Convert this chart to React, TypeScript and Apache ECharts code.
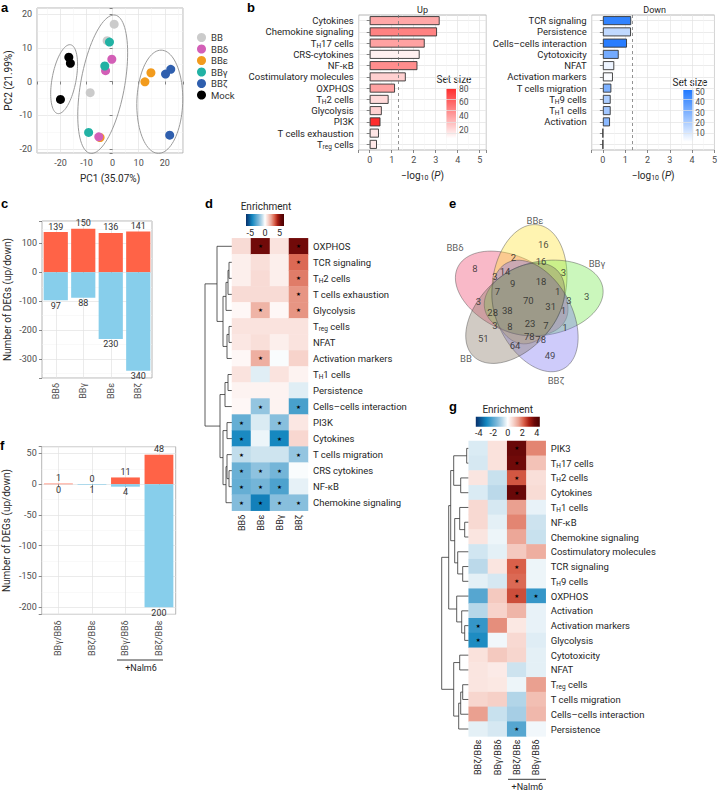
import React, { useEffect, useRef } from 'react';
import * as echarts from 'echarts';

const FONT = 'Roboto, "Noto Sans", "DejaVu Sans", sans-serif';
const TXT = '#262626';
const TICK_TXT = '#4d4d4d';

/* ---------- a: PCA ---------- */
const pcaGroups = ['BB', 'BBδ', 'BBε', 'BBγ', 'BBζ', 'Mock'];
const pcaBB = [[0.6, 17.0], [-2.1, 12.1], [-8.6, -3.3]];
const pcaBBd = [[-0.3, 6.6], [-2.7, 3.2], [-5.3, -16.4]];
const pcaBBe = [[12.4, -0.1], [14.7, 2.6], [-4.8, -16.6]];
const pcaBBg = [[-1.2, 11.7], [-3.0, 4.6], [-9.2, -15.1]];
const pcaBBz = [[20.3, 2.2], [22.3, 3.6], [21.9, -15.9]];
const pcaMock = [[-16.8, 7.2], [-16.2, 5.4], [-20.0, -5.3]];
const pcaColors = ['#cbcbcb', '#d35fb7', '#f29b1d', '#22b2a4', '#2f5fae', '#000000'];
const pcaEllipseCx = [-18.6, -3.8, 18.1];
const pcaEllipseCy = [0.7, -0.8, -6.0];
const pcaEllipseMajor = [[2.5, 10.2], [4.76, 20.5], [0.5, 15.3]];
const pcaEllipseMinor = [[4.5, -0.7], [8.3, -1.1], [8.8, 0]];

/* ---------- b: pathway enrichment ---------- */
const upPaths = ['Cytokines', 'Chemokine signaling', 'TH17 cells', 'CRS-cytokines', 'NF-κB', 'Costimulatory molecules', 'OXPHOS', 'TH2 cells', 'Glycolysis', 'PI3K', 'T cells exhaustion', 'Treg cells'];
const upLogP = [3.18, 3.06, 2.5, 2.27, 2.17, 1.64, 1.15, 0.86, 0.55, 0.49, 0.42, 0.33];
const upSetSize = [38, 51, 40, 13, 47, 24, 40, 21, 24, 80, 17, 16];
const downPaths = ['TCR signaling', 'Persistence', 'Cells–cells interaction', 'Cytotoxicity', 'NFAT', 'Activation markers', 'T cells migration', 'TH9 cells', 'TH1 cells', 'Activation', '', ' '];
const downLogP = [1.27, 1.26, 1.08, 0.71, 0.51, 0.45, 0.38, 0.35, 0.35, 0.32, 0, 0];
const downSetSize = [48, 16, 50, 33, 6, 3, 31, 21, 23, 28, 3, 3];

/* ---------- c: DEG counts ---------- */
const cGroups = ['BBδ', 'BBγ', 'BBε', 'BBζ'];
const cUp = [139, 150, 136, 141];
const cDown = [97, 88, 230, 340];

/* ---------- d: enrichment heatmap ---------- */
const dRows = ['OXPHOS', 'TCR signaling', 'TH2 cells', 'T cells exhaustion', 'Glycolysis', 'Treg cells', 'NFAT', 'Activation markers', 'TH1 cells', 'Persistence', 'Cells–cells interaction', 'PI3K', 'Cytokines', 'T cells migration', 'CRS cytokines', 'NF-κB', 'Chemokine signaling'];
const dCols = ['BBδ', 'BBε', 'BBγ', 'BBζ'];
const dBBd = [0.9, 0.4, 0.4, 0.9, 0.2, 0.7, 0.6, 0.2, 0.7, 0.3, 0.2, -2.7, -4.2, -1.0, -2.6, -2.7, -2.1];
const dBBe = [5.3, 0.8, 0.9, 0.9, 1.8, 0.7, 0.8, 1.9, -0.5, 0.3, -1.8, -0.6, -0.3, -0.8, -1.9, -2.4, -4.5];
const dBBg = [0.7, 0.4, 0.4, 0.9, 0.2, 0.7, 0.4, -0.1, 0.7, 0.3, 0.3, -2.0, -4.3, -0.8, -2.4, -3.2, -2.0];
const dBBz = [5.3, 3.1, 2.8, 2.4, 2.4, 0.7, 0.7, 1.1, 0.3, -0.5, -3.3, 0.6, 1.0, -1.8, -0.1, -0.4, -2.0];
const dSigBBd = [0, 0, 0, 0, 0, 0, 0, 0, 0, 0, 0, 1, 1, 1, 1, 1, 1];
const dSigBBe = [1, 0, 0, 0, 1, 0, 0, 1, 0, 0, 1, 0, 0, 0, 1, 1, 1];
const dSigBBg = [0, 0, 0, 0, 0, 0, 0, 0, 0, 0, 0, 1, 1, 0, 1, 1, 1];
const dSigBBz = [1, 1, 1, 1, 1, 0, 0, 0, 0, 0, 1, 0, 0, 1, 0, 0, 1];
const dMergeA = [1, 17, 18, 5, 20, 19, 0, 8, 24, 11, 14, 13, 28, 26, 25, 23];
const dMergeB = [2, 3, 4, 6, 7, 21, 22, 9, 10, 12, 15, 27, 16, 29, 30, 31];
const dMergeH = [3, 4, 6, 3, 5, 9, 15, 4, 7, 5, 3, 5, 6, 9, 12, 27];

/* ---------- e: Venn ---------- */
const vennSetNames = ['BBδ', 'BBε', 'BBγ', 'BBζ', 'BB'];
const vennCounts = [8, 16, 3, 49, 51, 2, 16, 3, 3, 14, 9, 18, 1, 3, 7, 70, 31, 1, 28, 38, 3, 8, 23, 7, 1, 78, 78, 64, 3];
const vennLabelX = [35, 103.3, 146.7, 110, 43.3, 73.3, 101, 123.3, 55, 65, 72.7, 101, 117.7, 129, 57.3, 88.3, 110.7, 123.3, 52.7, 67.3, 55, 70, 90, 106, 125, 89.3, 100.7, 75, 38.5];
const vennLabelY = [58, 34.3, 86.7, 145, 128.3, 47.3, 51.7, 62.7, 66, 61.7, 73.3, 71.7, 81.7, 90, 81.7, 90, 96.7, 100, 102.7, 100, 115, 116.7, 113.3, 115, 117.3, 126, 129.3, 135, 91.7];
const vennSetLabelX = [15, 95, 157, 116, 26];
const vennSetLabelY = [37, 10, 53, 170, 148];
const vennEllipseCx = [71.7, 89.4, 103.7, 95.0, 75.2];
const vennEllipseCy = [83.5, 74.2, 88.0, 106.0, 103.2];
const vennEllipseAngle = [206, 278, -10, 62, 134];
const vennFill = ['rgba(240,70,110,0.38)', 'rgba(255,228,60,0.40)', 'rgba(110,232,70,0.36)', 'rgba(120,110,240,0.36)', 'rgba(135,118,100,0.38)'];

/* ---------- f: DEG counts vs Nalm6 ---------- */
const fGroups = ['BBγ/BBδ', 'BBζ/BBε', 'BBγ/BBδ', 'BBζ/BBε'];
const fUp = [1, 0, 11, 48];
const fDown = [0, 1, 4, 200];

/* ---------- g: enrichment heatmap ---------- */
const gRows = ['PIK3', 'TH17 cells', 'TH2 cells', 'Cytokines', 'TH1 cells', 'NF-κB', 'Chemokine signaling', 'Costimulatory molecules', 'TCR signaling', 'TH9 cells', 'OXPHOS', 'Activation', 'Activation markers', 'Glycolysis', 'Cytotoxicity', 'NFAT', 'Treg cells', 'T cells migration', 'Cells–cells interaction', 'Persistence'];
const gCols = ['BBζ/BBε', 'BBγ/BBδ', 'BBζ/BBε', 'BBγ/BBδ'];
const gCol1 = [-0.4, -0.45, 0.45, -0.4, 0.65, 0.65, 0.45, -0.5, -0.75, -0.3, -2.05, -0.8, -2.5, -2.8, 0.5, 0.45, 0.45, 0.7, 1.5, -0.3];
const gCol2 = [0.5, 0.5, -0.6, -0.75, -0.45, -0.3, -0.2, -0.3, 0.45, -0.45, 0.9, 0.75, 1.7, -0.15, 0.9, 0.35, 0.4, 0.8, -0.6, -0.45];
const gCol3 = [3.7, 3.6, 2.3, 3.7, 1.5, 1.8, 1.4, 0.9, 2.2, 2.1, 2.4, 1.2, 0.4, 0.65, 0.7, -0.55, -0.2, -0.85, -1.0, -2.05];
const gCol4 = [1.8, 1.0, 0.55, 0.6, -0.25, -0.55, -0.6, 1.3, -0.2, -0.2, -2.5, -0.25, -0.25, -0.35, -0.3, -0.3, 1.5, 1.05, 1.15, -0.15];
const gSig1 = [0, 0, 0, 0, 0, 0, 0, 0, 0, 0, 0, 0, 1, 1, 0, 0, 0, 0, 0, 0];
const gSig2 = [0, 0, 0, 0, 0, 0, 0, 0, 0, 0, 0, 0, 0, 0, 0, 0, 0, 0, 0, 0];
const gSig3 = [1, 1, 1, 1, 0, 0, 0, 0, 1, 1, 1, 0, 0, 0, 0, 0, 0, 0, 0, 1];
const gSig4 = [0, 0, 0, 0, 0, 0, 0, 0, 0, 0, 1, 0, 0, 0, 0, 0, 0, 0, 0, 0];
const gMergeA = [0, 2, 20, 5, 4, 8, 7, 24, 22, 12, 11, 10, 28, 14, 16, 34, 35, 33, 32];
const gMergeB = [1, 3, 21, 6, 23, 9, 25, 26, 27, 13, 29, 30, 31, 15, 17, 18, 19, 36, 37];
const gMergeH = [2, 8, 15, 4, 9, 6, 11, 14, 18, 4, 7, 12, 20, 9, 6, 8, 10, 15, 27];

const divPalette = ['#08306b', '#0b5a96', '#1487c0', '#4ba1cd', '#7fbadb', '#bcdaea', '#ffffff', '#f7d4cc', '#eba393', '#d9604a', '#a81e12', '#6a0808', '#4a0000'];

function niceFmt(step: number) {
  return (v: number) => {
    const r = Math.round(v / step) * step;
    return Math.abs(v - r) < 1e-6 ? String(Math.round(r * 100) / 100) : '';
  };
}

function richName(s: string) {
  if (s.indexOf('Treg') === 0) return 'T{s|reg}' + s.slice(4);
  const m = /^TH(\d.*)$/.exec(s);
  if (m) return 'T{s|H}' + m[1];
  return s;
}

function dendroSegments(n: number, A: number[], B: number[], H: number[]) {
  const pos: number[] = [];
  const h: number[] = [];
  for (let i = 0; i < n; i++) { pos.push(i); h.push(0); }
  const segs: number[][] = [];
  for (let k = 0; k < A.length; k++) {
    const a = A[k], b = B[k];
    segs.push([h[a], pos[a], H[k], pos[b], h[b]]);
    pos.push((pos[a] + pos[b]) / 2);
    h.push(H[k]);
  }
  return segs;
}

function buildOption(): any {
  const grid: any[] = [];
  const xAxis: any[] = [];
  const yAxis: any[] = [];
  const series: any[] = [];
  const visualMap: any[] = [];
  const graphic: any[] = [];

  const lab = (extra: any = {}) => ({ fontSize: 9, color: TICK_TXT, fontFamily: FONT, ...extra });
  const split = { show: true, lineStyle: { color: '#e3e3e3', width: 0.7 } };
  const minorSplit = { show: true, lineStyle: { color: '#f2f2f2', width: 0.5 } };
  const tick = { show: true, length: 3, lineStyle: { color: '#555', width: 0.7 } };
  const frame = { show: true, borderColor: '#a3a3a3', borderWidth: 0.8, backgroundColor: '#ffffff' };
  const subRich = { s: { fontSize: 6.5, padding: [5, 0, 0, 0], fontFamily: FONT, color: TXT } };
  const rowLabel = { fontSize: 9.5, color: TXT, fontFamily: FONT, margin: 5, interval: 0, formatter: richName, rich: subRich };
  const nameStyle = { fontSize: 10, color: TXT, fontFamily: FONT };
  const noLine = { show: false };
  const stops = (cols: string[]) => cols.map((c, i) => ({ offset: i / (cols.length - 1), color: c }));
  const gText = (x: number, y: number, text: string, opts: any = {}) => ({
    type: 'text', x, y, silent: true,
    style: { text, fill: TXT, fontSize: 10, fontFamily: FONT, textAlign: 'center', textVerticalAlign: 'middle', ...opts },
  });
  const hiddenGrid = (g: any, xa: any, ya: any) => {
    grid.push(g);
    const gi = grid.length - 1;
    xAxis.push({ gridIndex: gi, ...xa });
    yAxis.push({ gridIndex: gi, ...ya });
    return gi;
  };
  const dendroRender = (params: any, api: any) => {
    const p1 = api.coord([api.value(0), api.value(1)]);
    const p2 = api.coord([api.value(2), api.value(1)]);
    const p3 = api.coord([api.value(2), api.value(3)]);
    const p4 = api.coord([api.value(4), api.value(3)]);
    return { type: 'polyline', shape: { points: [p1, p2, p3, p4] }, style: { fill: 'none', stroke: '#333', lineWidth: 0.8 } };
  };
  const starFmt = (p: any) => (p.data[3] ? '★' : '');

  /* ===== a ===== */
  grid.push({ left: 37, top: 8, width: 146, height: 145, ...frame });
  xAxis.push({
    gridIndex: 0, type: 'value', min: -29, max: 27, axisLine: noLine, axisTick: tick,
    axisLabel: lab({ margin: 5, formatter: niceFmt(10) }), splitLine: split,
    minorTick: { show: false, splitNumber: 2 }, minorSplitLine: minorSplit,
    name: 'PC1 (35.07%)', nameLocation: 'middle', nameGap: 20, nameTextStyle: nameStyle,
  });
  yAxis.push({
    gridIndex: 0, type: 'value', min: -21.2, max: 21.8, axisLine: noLine, axisTick: tick,
    axisLabel: lab({ margin: 5, formatter: niceFmt(10) }), splitLine: split,
    minorTick: { show: false, splitNumber: 2 }, minorSplitLine: minorSplit,
    name: 'PC2 (21.99%)', nameLocation: 'middle', nameGap: 24, nameRotate: 90, nameTextStyle: nameStyle,
  });
  series.push({
    type: 'custom', xAxisIndex: 0, yAxisIndex: 0, silent: true, z: 2,
    data: pcaEllipseCx.map((cx, i) => [cx, pcaEllipseCy[i], i]),
    encode: { x: 0, y: 1 },
    renderItem: (params: any, api: any) => {
      const i = api.value(2);
      const cx = api.value(0), cy = api.value(1);
      const u = pcaEllipseMajor[i], v = pcaEllipseMinor[i];
      const pts: number[][] = [];
      for (let t = 0; t <= 90; t++) {
        const a = (t / 90) * Math.PI * 2;
        pts.push(api.coord([cx + u[0] * Math.cos(a) + v[0] * Math.sin(a), cy + u[1] * Math.cos(a) + v[1] * Math.sin(a)]));
      }
      return { type: 'polygon', shape: { points: pts }, style: { fill: 'none', stroke: '#9a9a9a', lineWidth: 1 } };
    },
  });
  const pcaSets = [pcaBB, pcaBBd, pcaBBe, pcaBBg, pcaBBz, pcaMock];
  [0, 2, 1, 3, 4, 5].forEach((k) => {
    series.push({
      type: 'scatter', name: pcaGroups[k], xAxisIndex: 0, yAxisIndex: 0, data: pcaSets[k],
      symbolSize: 9, itemStyle: { color: pcaColors[k], opacity: 1 }, z: 3, silent: true,
    });
  });

  /* ===== b (up) ===== */
  const bNameRich = { s: { fontSize: 7, padding: [5, 0, 0, 0], fontFamily: FONT, color: TXT }, i: { fontStyle: 'italic', fontSize: 10, fontFamily: FONT, color: TXT } };
  grid.push({ left: 358.7, top: 15, width: 127.6, height: 135, ...frame });
  let gi = grid.length - 1;
  xAxis.push({
    gridIndex: gi, type: 'value', min: -0.5, max: 5.3, axisLine: noLine, axisTick: tick,
    axisLabel: lab({ margin: 5, formatter: niceFmt(1) }), splitLine: split,
    minorTick: { show: false, splitNumber: 2 }, minorSplitLine: minorSplit,
    name: '−log{s|10} ({i|P})', nameLocation: 'middle', nameGap: 19, nameTextStyle: { ...nameStyle, rich: bNameRich },
  });
  yAxis.push({
    gridIndex: gi, type: 'category', data: upPaths, inverse: true, axisLine: noLine,
    axisTick: { ...tick, alignWithLabel: true, interval: 0 }, axisLabel: rowLabel, splitLine: { ...split, alignWithLabel: true, interval: 0 },
  });
  series.push({
    type: 'bar', xAxisIndex: gi, yAxisIndex: gi, silent: true, z: 3,
    data: upLogP.map((v, i) => [v, i, upSetSize[i]]), encode: { x: 0, y: 1 },
    barWidth: 9, itemStyle: { borderColor: '#333', borderWidth: 0.9 },
    markLine: { silent: true, symbol: 'none', label: { show: false }, lineStyle: { type: [3, 3], color: '#777', width: 0.8 }, data: [{ xAxis: 1.301 }] },
  });
  visualMap.push({ type: 'continuous', show: false, seriesIndex: series.length - 1, dimension: 2, min: 8, max: 80, inRange: { color: ['#ffffff', '#ff2d2d'] } });

  /* ===== b (down) ===== */
  grid.push({ left: 591.7, top: 15, width: 126, height: 135, ...frame });
  gi = grid.length - 1;
  xAxis.push({
    gridIndex: gi, type: 'value', min: -0.5, max: 5.0, axisLine: noLine, axisTick: tick,
    axisLabel: lab({ margin: 5, formatter: niceFmt(1) }), splitLine: split,
    minorTick: { show: false, splitNumber: 2 }, minorSplitLine: minorSplit,
    name: '−log{s|10} ({i|P})', nameLocation: 'middle', nameGap: 19, nameTextStyle: { ...nameStyle, rich: bNameRich },
  });
  yAxis.push({
    gridIndex: gi, type: 'category', data: downPaths, inverse: true, axisLine: noLine,
    axisTick: { ...tick, alignWithLabel: true, interval: 0 }, axisLabel: rowLabel, splitLine: { ...split, alignWithLabel: true, interval: 0 },
  });
  series.push({
    type: 'bar', xAxisIndex: gi, yAxisIndex: gi, silent: true, z: 3,
    data: downLogP.map((v, i) => [v, i, downSetSize[i]]), encode: { x: 0, y: 1 },
    barWidth: 9, itemStyle: { borderColor: '#333', borderWidth: 0.9 },
    markLine: { silent: true, symbol: 'none', label: { show: false }, lineStyle: { type: [3, 3], color: '#777', width: 0.8 }, data: [{ xAxis: 1.301 }] },
  });
  visualMap.push({ type: 'continuous', show: false, seriesIndex: series.length - 1, dimension: 2, min: 2, max: 52, inRange: { color: ['#ffffff', '#1f78ff'] } });

  /* colour bar axes for b */
  hiddenGrid({ left: 446, top: 88.7, width: 10, height: 49.6 },
    { type: 'value', show: false, min: 0, max: 1 },
    { type: 'value', min: 8, max: 80, splitNumber: 4, position: 'right', axisLine: noLine, axisTick: { show: false }, splitLine: { show: false }, axisLabel: lab({ fontSize: 8.5, margin: 3, formatter: niceFmt(20) }) });
  hiddenGrid({ left: 683.3, top: 90, width: 10, height: 51.7 },
    { type: 'value', show: false, min: 0, max: 1 },
    { type: 'value', min: 2, max: 52, splitNumber: 5, position: 'right', axisLine: noLine, axisTick: { show: false }, splitLine: { show: false }, axisLabel: lab({ fontSize: 8.5, margin: 2, formatter: niceFmt(10) }) });
  graphic.push({ type: 'rect', silent: true, shape: { x: 446, y: 88.7, width: 10, height: 49.6 }, style: { fill: { type: 'linear', x: 0, y: 1, x2: 0, y2: 0, colorStops: stops(['#ffffff', '#ff2d2d']) } } });
  graphic.push({ type: 'rect', silent: true, shape: { x: 683.3, y: 90, width: 10, height: 51.7 }, style: { fill: { type: 'linear', x: 0, y: 1, x2: 0, y2: 0, colorStops: stops(['#ffffff', '#1f78ff']) } } });
  graphic.push(gText(454, 79, 'Set size'));
  graphic.push(gText(690, 82, 'Set size'));
  graphic.push(gText(422.5, 9.5, 'Up', { fontSize: 9 }));
  graphic.push(gText(654.7, 9.5, 'Down', { fontSize: 9 }));

  /* ===== c ===== */
  grid.push({ left: 42, top: 221, width: 110, height: 157, ...frame });
  gi = grid.length - 1;
  xAxis.push({
    gridIndex: gi, type: 'category', data: cGroups, axisLine: noLine, axisTick: { ...tick, alignWithLabel: true },
    axisLabel: lab({ rotate: 90, margin: 5, interval: 0 }), splitLine: { ...split, alignWithLabel: true, interval: 0 },
  });
  yAxis.push({
    gridIndex: gi, type: 'value', min: -365, max: 177, axisLine: noLine, axisTick: tick,
    axisLabel: lab({ margin: 5, formatter: niceFmt(100) }), splitLine: split,
    minorTick: { show: false, splitNumber: 2 }, minorSplitLine: minorSplit,
    name: 'Number of DEGs (up/down)', nameLocation: 'middle', nameGap: 30, nameTextStyle: nameStyle,
  });
  series.push({
    type: 'bar', xAxisIndex: gi, yAxisIndex: gi, silent: true, data: cUp, barWidth: '88%', z: 3,
    itemStyle: { color: '#FF6347' }, label: { show: true, position: 'top', distance: 1, fontSize: 9, color: '#333', fontFamily: FONT },
  });
  series.push({
    type: 'bar', xAxisIndex: gi, yAxisIndex: gi, silent: true, data: cDown.map((v) => -v), barWidth: '88%', barGap: '-100%', z: 3,
    itemStyle: { color: '#87CEEB' }, label: { show: true, position: 'bottom', distance: 1, fontSize: 9, color: '#333', fontFamily: FONT, formatter: (p: any) => String(Math.abs(p.value)) },
  });

  /* ===== d ===== */
  gi = hiddenGrid({ left: 205, top: 238.3, width: 27, height: 272.4 },
    { type: 'value', show: false, min: 0, max: 27, inverse: true },
    { type: 'value', show: false, min: -0.5, max: dRows.length - 0.5, inverse: true });
  series.push({
    type: 'custom', xAxisIndex: gi, yAxisIndex: gi, silent: true,
    data: dendroSegments(dRows.length, dMergeA, dMergeB, dMergeH), encode: { x: [0, 2, 4], y: [1, 3] },
    renderItem: dendroRender,
  });
  grid.push({ left: 232, top: 238.3, width: 76, height: 272.4 });
  gi = grid.length - 1;
  xAxis.push({ gridIndex: gi, type: 'category', data: dCols, axisLine: noLine, axisTick: { show: false }, splitLine: { show: false }, axisLabel: lab({ rotate: 90, margin: 4, color: TXT, interval: 0 }) });
  yAxis.push({ gridIndex: gi, type: 'category', data: dRows, inverse: true, position: 'right', axisLine: noLine, axisTick: { show: false }, splitLine: { show: false }, axisLabel: rowLabel });
  const dVals = [dBBd, dBBe, dBBg, dBBz];
  const dSig = [dSigBBd, dSigBBe, dSigBBg, dSigBBz];
  const dData: any[] = [];
  dVals.forEach((col, j) => col.forEach((v, i) => dData.push([j, i, v, dSig[j][i]])));
  series.push({
    type: 'heatmap', xAxisIndex: gi, yAxisIndex: gi, silent: true, data: dData,
    itemStyle: { borderWidth: 0 }, label: { show: true, formatter: starFmt, fontSize: 5.5, color: '#000' },
  });
  visualMap.push({ type: 'continuous', show: false, seriesIndex: series.length - 1, dimension: 2, min: -6.5, max: 6.5, inRange: { color: divPalette } });
  hiddenGrid({ left: 246, top: 214, width: 38, height: 12 },
    { type: 'value', min: -6.5, max: 6.5, splitNumber: 2, axisLine: noLine, axisTick: { show: false }, splitLine: { show: false }, axisLabel: lab({ margin: 2, color: TXT, formatter: niceFmt(5) }) },
    { type: 'value', show: false, min: 0, max: 1 });
  graphic.push({ type: 'rect', silent: true, shape: { x: 246, y: 214, width: 38, height: 12 }, style: { fill: { type: 'linear', x: 0, y: 0, x2: 1, y2: 0, colorStops: stops(divPalette) } } });
  graphic.push(gText(266, 206.5, 'Enrichment'));

  /* ===== e ===== */
  gi = hiddenGrid({ left: 440, top: 210, width: 180, height: 180 },
    { type: 'value', show: false, min: 0, max: 180 },
    { type: 'value', show: false, min: 0, max: 180, inverse: true });
  series.push({
    type: 'custom', xAxisIndex: gi, yAxisIndex: gi, silent: true, z: 2,
    data: vennEllipseCx.map((cx, i) => [cx, vennEllipseCy[i], i]), encode: { x: 0, y: 1 },
    renderItem: (params: any, api: any) => {
      const i = api.value(2);
      const cx = api.value(0), cy = api.value(1);
      const ang = (vennEllipseAngle[i] * Math.PI) / 180;
      const A = 60, B = 37;
      const pts: number[][] = [];
      for (let t = 0; t <= 90; t++) {
        const a = (t / 90) * Math.PI * 2;
        const ex = A * Math.cos(a), ey = B * Math.sin(a);
        pts.push(api.coord([cx + ex * Math.cos(ang) - ey * Math.sin(ang), cy + ex * Math.sin(ang) + ey * Math.cos(ang)]));
      }
      return { type: 'polygon', shape: { points: pts }, style: { fill: vennFill[i], stroke: 'rgba(70,70,70,0.55)', lineWidth: 0.8 } };
    },
  });
  series.push({
    type: 'scatter', xAxisIndex: gi, yAxisIndex: gi, silent: true, z: 4, symbolSize: 1,
    itemStyle: { color: 'rgba(0,0,0,0)' },
    data: vennCounts.map((c, i) => [vennLabelX[i], vennLabelY[i], c]),
    label: { show: true, position: 'inside', formatter: (p: any) => String(p.data[2]), fontSize: 9.5, color: '#222', fontFamily: FONT },
  });
  series.push({
    type: 'scatter', xAxisIndex: gi, yAxisIndex: gi, silent: true, z: 4, symbolSize: 1,
    itemStyle: { color: 'rgba(0,0,0,0)' },
    data: vennSetNames.map((n, i) => [vennSetLabelX[i], vennSetLabelY[i], n]),
    label: { show: true, position: 'inside', formatter: (p: any) => String(p.data[2]), fontSize: 9.5, color: '#333', fontFamily: FONT },
  });

  /* ===== f ===== */
  grid.push({ left: 41.7, top: 446.7, width: 134, height: 167.6, ...frame });
  gi = grid.length - 1;
  xAxis.push({
    gridIndex: gi, type: 'category', data: fGroups, axisLine: noLine, axisTick: { ...tick, alignWithLabel: true },
    axisLabel: lab({ rotate: 90, margin: 6, interval: 0 }), splitLine: { ...split, alignWithLabel: true, interval: 0 },
  });
  yAxis.push({
    gridIndex: gi, type: 'value', min: -211.5, max: 61, axisLine: noLine, axisTick: tick,
    axisLabel: lab({ margin: 5, formatter: niceFmt(50) }), splitLine: split,
    minorTick: { show: false, splitNumber: 2 }, minorSplitLine: minorSplit,
    name: 'Number of DEGs (up/down)', nameLocation: 'middle', nameGap: 30, nameTextStyle: nameStyle,
  });
  series.push({
    type: 'bar', xAxisIndex: gi, yAxisIndex: gi, silent: true, data: fUp, barWidth: '86%', z: 3,
    itemStyle: { color: '#FF6347' }, label: { show: true, position: 'top', distance: 1, fontSize: 9, color: '#333', fontFamily: FONT },
  });
  series.push({
    type: 'bar', xAxisIndex: gi, yAxisIndex: gi, silent: true, data: fDown.map((v) => -v), barWidth: '86%', barGap: '-100%', z: 3,
    itemStyle: { color: '#87CEEB' }, label: { show: true, position: 'bottom', distance: 1, fontSize: 9, color: '#333', fontFamily: FONT, formatter: (p: any) => String(Math.abs(p.value)) },
  });
  graphic.push({ type: 'line', silent: true, shape: { x1: 117, y1: 660, x2: 163, y2: 660 }, style: { stroke: '#222', lineWidth: 0.9 } });
  graphic.push(gText(141, 667.5, '+Nalm6', { fontSize: 9 }));

  /* ===== g ===== */
  gi = hiddenGrid({ left: 441.7, top: 441, width: 27, height: 295.4 },
    { type: 'value', show: false, min: 0, max: 27, inverse: true },
    { type: 'value', show: false, min: -0.5, max: gRows.length - 0.5, inverse: true });
  series.push({
    type: 'custom', xAxisIndex: gi, yAxisIndex: gi, silent: true,
    data: dendroSegments(gRows.length, gMergeA, gMergeB, gMergeH), encode: { x: [0, 2, 4], y: [1, 3] },
    renderItem: dendroRender,
  });
  grid.push({ left: 468.7, top: 441, width: 77, height: 295.4 });
  gi = grid.length - 1;
  xAxis.push({ gridIndex: gi, type: 'category', data: gCols, axisLine: noLine, axisTick: { show: false }, splitLine: { show: false }, axisLabel: lab({ rotate: 90, margin: 3, color: TXT, interval: 0 }) });
  yAxis.push({ gridIndex: gi, type: 'category', data: gRows, inverse: true, position: 'right', axisLine: noLine, axisTick: { show: false }, splitLine: { show: false }, axisLabel: rowLabel });
  const gVals = [gCol1, gCol2, gCol3, gCol4];
  const gSig = [gSig1, gSig2, gSig3, gSig4];
  const gData: any[] = [];
  gVals.forEach((col, j) => col.forEach((v, i) => gData.push([j, i, v, gSig[j][i]])));
  series.push({
    type: 'heatmap', xAxisIndex: gi, yAxisIndex: gi, silent: true, data: gData,
    itemStyle: { borderWidth: 0 }, label: { show: true, formatter: starFmt, fontSize: 5.5, color: '#000' },
  });
  visualMap.push({ type: 'continuous', show: false, seriesIndex: series.length - 1, dimension: 2, min: -4.4, max: 4.4, inRange: { color: divPalette } });
  hiddenGrid({ left: 475.8, top: 416.7, width: 64, height: 10 },
    { type: 'value', min: -4.4, max: 4.4, splitNumber: 4, axisLine: noLine, axisTick: { show: false }, splitLine: { show: false }, axisLabel: lab({ margin: 2, color: TXT, formatter: niceFmt(2) }) },
    { type: 'value', show: false, min: 0, max: 1 });
  graphic.push({ type: 'rect', silent: true, shape: { x: 475.8, y: 416.7, width: 64, height: 10 }, style: { fill: { type: 'linear', x: 0, y: 0, x2: 1, y2: 0, colorStops: stops(divPalette) } } });
  graphic.push(gText(507.7, 409.5, 'Enrichment'));
  graphic.push({ type: 'line', silent: true, shape: { x1: 508, y1: 779.3, x2: 546, y2: 779.3 }, style: { stroke: '#222', lineWidth: 0.9 } });
  graphic.push(gText(527.3, 786.5, '+Nalm6', { fontSize: 9 }));

  /* panel letters */
  const letter = (x: number, y: number, t: string) => gText(x, y, t, { fontSize: 13, fontWeight: 'bold', fontFamily: '"Liberation Sans", Arial, sans-serif', fill: '#000', textAlign: 'left', textVerticalAlign: 'top' });
  graphic.push(letter(1, 1, 'a'), letter(247, 1, 'b'), letter(1, 197, 'c'), letter(205, 197, 'd'), letter(449, 197, 'e'), letter(0, 439, 'f'), letter(449, 400, 'g'));

  return {
    animation: false,
    backgroundColor: '#ffffff',
    textStyle: { fontFamily: FONT },
    legend: {
      data: pcaGroups, orient: 'vertical', left: 197, top: 32.5, itemWidth: 9, itemHeight: 9, itemGap: 1.5,
      icon: 'circle', padding: 0, selectedMode: false,
      textStyle: { fontSize: 9.5, color: '#333', fontFamily: FONT, lineHeight: 10 },
    },
    grid, xAxis, yAxis, series, visualMap, graphic,
  };
}

export default function App() {
  const ref = useRef<HTMLDivElement>(null);
  useEffect(() => {
    const chart = echarts.init(ref.current as HTMLDivElement, null, { renderer: 'svg' });
    chart.setOption(buildOption());
    return () => chart.dispose();
  }, []);
  return <div ref={ref} style={{ position: 'absolute', left: 0, top: 0, width: 720, height: 792, background: '#fff' }} />;
}
